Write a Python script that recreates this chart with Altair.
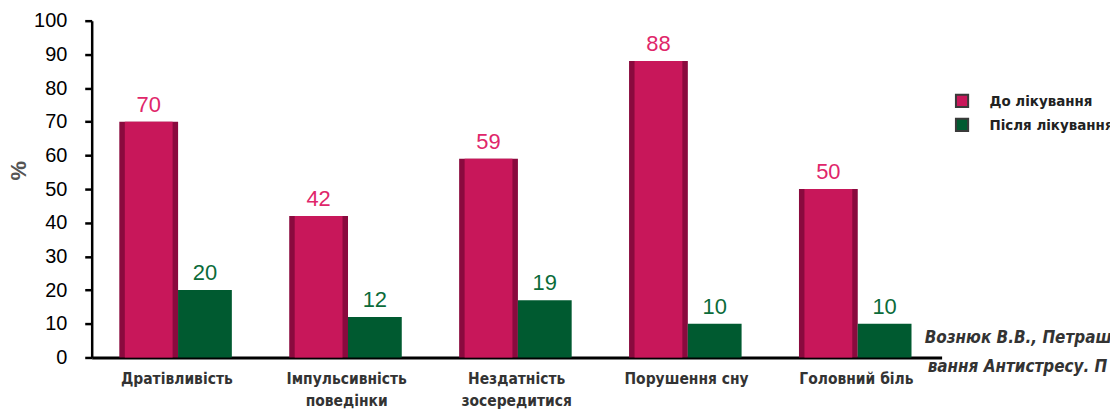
import altair as alt
import pandas as pd

categories = ["Дратівливість", "Імпульсивність\nповедінки", "Нездатність\nзосередитися",
              "Порушення сну", "Головний біль"]
series = ["До лікування", "Після лікування"]
before_values = [70, 42, 59, 88, 50]
after_values = [20, 12, 17, 10, 10]      # bar heights as drawn
before_labels = [70, 42, 59, 88, 50]
after_labels = [20, 12, 19, 10, 10]      # printed labels
y_ticks = [0, 10, 20, 30, 40, 50, 60, 70, 80, 90, 100]
source_lines = ["Вознюк В.В., Петраш", "вання Антистресу. П"]

rows = []
for c, v, l in zip(categories, before_values, before_labels):
    rows.append({"category": c, "series": series[0], "value": v, "label": l})
for c, v, l in zip(categories, after_values, after_labels):
    rows.append({"category": c, "series": series[1], "value": v, "label": l})
df = pd.DataFrame(rows)

PINK = "#c8175a"
PINK_DARK = "#8a0a3e"
GREEN = "#005a30"
PINK_TEXT = "#e0266a"
GREEN_TEXT = "#0b6b3a"
NARROW = "Liberation Sans Narrow, DejaVu Sans Condensed, sans-serif"
ARIAL = "Liberation Sans, Arial, sans-serif"

x_enc = alt.X(
    "category:N", sort=categories, title=None,
    scale=alt.Scale(paddingInner=0.338, paddingOuter=0.17),
    axis=alt.Axis(labelAngle=0, ticks=False, domainColor="#000", domainWidth=3,
                  labelFont=NARROW, labelFontSize=15.5, labelFontWeight="bold",
                  labelColor="#333", labelPadding=14, labelLineHeight=22,
                  labelExpr="split(datum.label, '\\n')", labelBaseline="top"),
)
xo_enc = alt.XOffset("series:N", sort=series,
                     scale=alt.Scale(domain=series, paddingInner=0, paddingOuter=0))
y_enc = alt.Y(
    "value:Q", title="%",
    scale=alt.Scale(domain=[0, 100], nice=False),
    axis=alt.Axis(values=y_ticks, grid=False, domainColor="#000", domainWidth=2.5,
                  tickColor="#000", tickWidth=2.5, tickSize=7,
                  labelFont=ARIAL, labelFontSize=20, labelColor="#000", labelPadding=18,
                  titleFont=ARIAL, titleFontSize=22, titleFontWeight="bold",
                  titleColor="#555", titleAngle=270, titleX=-61, titleY=150,
                  titleBaseline="bottom"),
)

color_enc = alt.Color(
    "series:N",
    scale=alt.Scale(domain=series, range=[PINK, GREEN]),
    legend=alt.Legend(title=None, orient="none", legendX=866, legendY=73,
                      symbolType="square", symbolSize=150, symbolStrokeColor="#3a3a3a",
                      symbolStrokeWidth=2, labelFont=NARROW, labelFontSize=15,
                      labelFontWeight="bold", labelColor="#222", labelOffset=20,
                      rowPadding=3, padding=0),
)

base = alt.Chart(df).encode(x=x_enc, xOffset=xo_enc, y=y_enc)

side = base.transform_filter(alt.datum.series == series[0]).mark_bar(
    width=59, xOffset=1.25, color=PINK_DARK)
front = base.transform_filter(alt.datum.series == series[0]).mark_bar(
    width=48, xOffset=-4.25).encode(color=color_enc)
green = base.transform_filter(alt.datum.series == series[1]).mark_bar(
    width=54, xOffset=1.25).encode(color=color_enc)
labels = base.mark_text(baseline="bottom", dy=-5, fontSize=22, font=ARIAL).encode(
    text="label:Q",
    color=alt.condition(alt.datum.series == series[0], alt.value(PINK_TEXT), alt.value(GREEN_TEXT)),
)

src1 = alt.Chart(pd.DataFrame({"t": [source_lines[0]]})).mark_text(
    align="left", baseline="middle", font=NARROW, fontSize=17, fontStyle="italic",
    fontWeight="bold", color="#333").encode(text="t:N", x=alt.value(836), y=alt.value(318))
src2 = alt.Chart(pd.DataFrame({"t": [source_lines[1]]})).mark_text(
    align="left", baseline="middle", font=NARROW, fontSize=17, fontStyle="italic",
    fontWeight="bold", color="#333").encode(text="t:N", x=alt.value(839), y=alt.value(348))

chart = alt.layer(side, front, green, labels, src1, src2).properties(
    width=853, height=338,
    autosize=alt.AutoSizeParams(type="none"),
    padding={"left": 84, "top": 12, "right": 169, "bottom": 53},
).configure_view(stroke=None)

chart.save("out.html", embed_options={"renderer": "svg", "actions": False})
